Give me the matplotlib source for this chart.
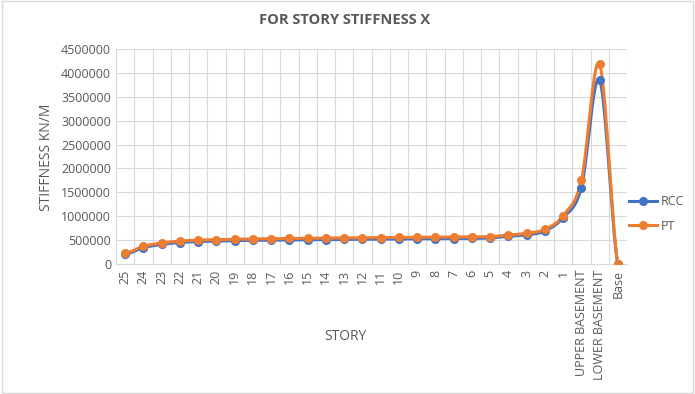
import numpy as np
import matplotlib
matplotlib.use("Agg")
import matplotlib.pyplot as plt
from matplotlib.patches import Rectangle

plt.rcParams['font.family'] = ['Open Sans', 'DejaVu Sans']

stories = [str(i) for i in range(25, 0, -1)] + ["UPPER BASEMENT", "LOWER BASEMENT", "Base"]
rcc = [200000, 340000, 410000, 450000, 470000, 480000, 490000, 495000, 500000, 505000,
       508000, 511000, 514000, 517000, 520000, 523000, 526000, 529000, 532000, 536000,
       545000, 580000, 610000, 690000, 970000, 1600000, 3850000, 0]
pt = [220000, 370000, 440000, 480000, 500000, 510000, 520000, 525000, 530000, 535000,
      540000, 543000, 546000, 549000, 552000, 555000, 558000, 561000, 564000, 567000,
      572000, 607000, 642000, 726000, 1011000, 1750000, 4180000, 0]
yticks = list(range(0, 4500001, 500000))

RCC_C = "#4472C4"
PT_C = "#ED7D31"
TXT = "#595959"
GRID = "#D9D9D9"


def smooth(y, n=20):
    y = np.asarray(y, dtype=float)
    x = np.arange(len(y), dtype=float)
    p = np.concatenate([[y[0]], y, [y[-1]]])
    xs, ys = [], []
    for i in range(len(y) - 1):
        p0, p1, p2, p3 = p[i], p[i + 1], p[i + 2], p[i + 3]
        t = np.linspace(0, 1, n, endpoint=False)
        m1 = (p2 - p0) / 2
        m2 = (p3 - p1) / 2
        h00 = 2 * t**3 - 3 * t**2 + 1
        h10 = t**3 - 2 * t**2 + t
        h01 = -2 * t**3 + 3 * t**2
        h11 = t**3 - t**2
        ys.append(h00 * p1 + h10 * m1 + h01 * p2 + h11 * m2)
        xs.append(x[i] + t)
    xs.append([x[-1]])
    ys.append([y[-1]])
    return np.concatenate(xs), np.concatenate(ys)


fig = plt.figure(figsize=(6.95, 3.94), dpi=100)
ax = fig.add_axes([116 / 695, 1 - 264 / 394, (627 - 116) / 695, (264 - 49) / 394])

x = np.arange(len(stories))
for vals, c, lab in [(rcc, RCC_C, "RCC"), (pt, PT_C, "PT")]:
    sx, sy = smooth(vals)
    ax.plot(sx, sy, color=c, lw=2.2, solid_capstyle='round', zorder=3)
    ax.plot(x, vals, 'o', color=c, ms=5.5, zorder=4)
    ax.plot([], [], '-o', color=c, lw=2.2, ms=5.5, label=lab)

ax.set_xlim(-0.5, len(stories) - 0.5)
ax.set_ylim(0, 4500000)
ax.set_yticks(yticks)
ax.set_yticklabels([str(v) for v in yticks])
ax.set_xticks(x)
ax.set_xticklabels(stories, rotation=90)
ax.set_xticks(np.arange(-0.5, len(stories), 1), minor=True)
ax.grid(True, which='major', axis='y', color=GRID, lw=0.8)
ax.grid(True, which='minor', axis='x', color=GRID, lw=0.8)
ax.set_axisbelow(True)
ax.tick_params(which='both', length=0, colors=TXT, labelsize=9)
ax.tick_params(axis='x', pad=4)
for s in ['top', 'right', 'left']:
    ax.spines[s].set_visible(False)
ax.spines['bottom'].set_color(GRID)

fig.text(345 / 695, 1 - 337 / 394, "STORY", ha='center', va='center', color=TXT, fontsize=10)
fig.text(47 / 695, 1 - 157 / 394, "STIFFNESS KN/M", ha='center', va='center', rotation=90,
         color=TXT, fontsize=10)
fig.text(345 / 695, 1 - 20 / 394, "FOR STORY STIFFNESS X", ha='center', va='center',
         color=TXT, fontsize=10.5, fontweight='bold')

leg = fig.legend(loc='center left', bbox_to_anchor=(624 / 695, 1 - 214 / 394), frameon=False,
                 fontsize=9, handlelength=2.2, handletextpad=0.3, labelspacing=0.9,
                 borderaxespad=0)
for t in leg.get_texts():
    t.set_color(TXT)

fig.patches.append(Rectangle((0.003, 0.003), 0.994, 0.994, transform=fig.transFigure,
                             fill=False, edgecolor=GRID, lw=1))
fig.savefig("out.png", dpi=100)
